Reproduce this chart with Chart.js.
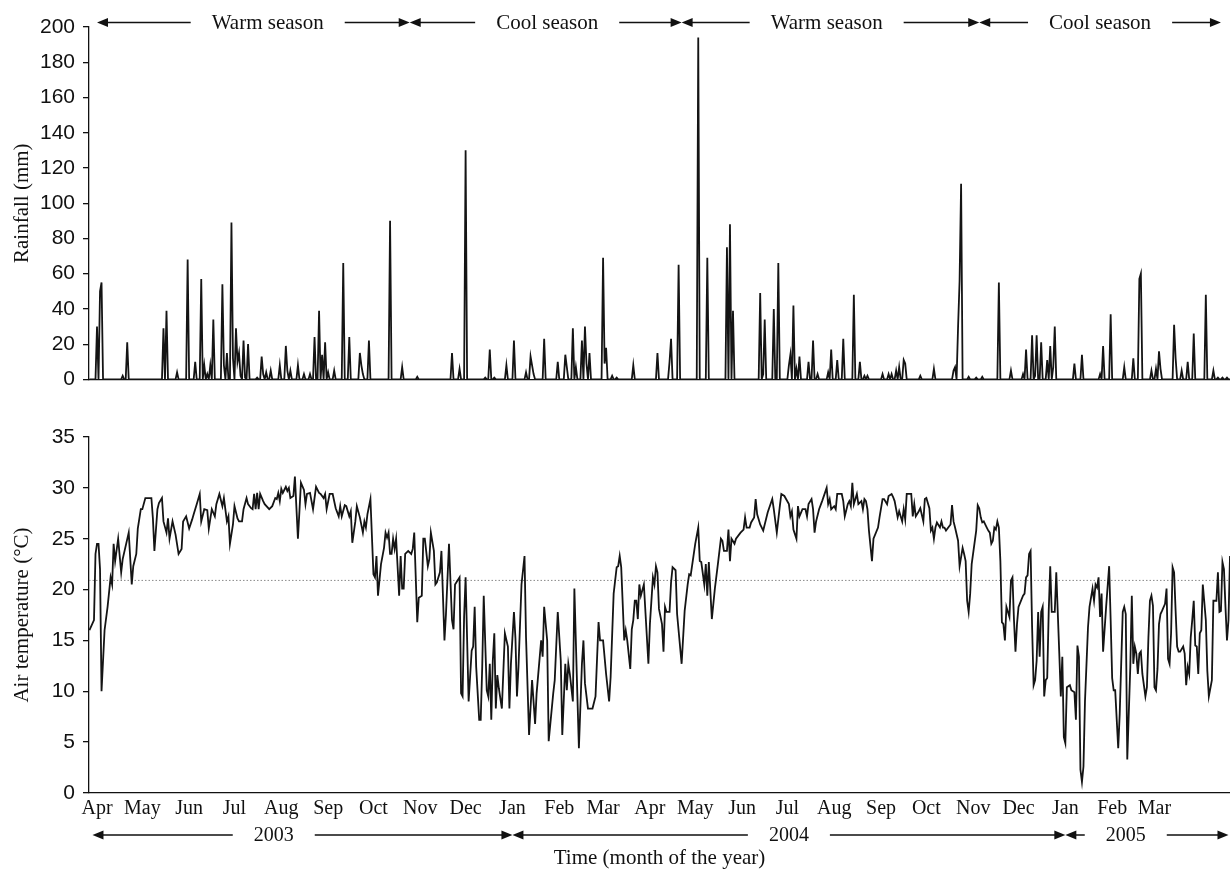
<!DOCTYPE html>
<html>
<head>
<meta charset="utf-8">
<script src="https://cdn.jsdelivr.net/npm/chart.js@4.4.1/dist/chart.umd.min.js"></script>
<style>
  html, body { margin: 0; padding: 0; background: #fff; }
  #wrap { position: relative; width: 1230px; height: 871px; overflow: hidden; }
  #rainCanvas { position: absolute; left: 0; top: 0; }
  #tempCanvas { position: absolute; left: 0; top: 400px; }
</style>
</head>
<body>
<div id="wrap">
  <canvas id="rainCanvas" width="1230" height="400"></canvas>
  <canvas id="tempCanvas" width="1230" height="471"></canvas>
</div>
<script>
// Days are counted from 1 April 2003 (day 0); the record runs from late March 2003 to mid April 2005.
const recordStart = -5.3;
const recordEnd = 750;

// Daily rainfall (mm) on rain days, as [day, mm]; days not listed had no rain.
const rain2003 = [
  [0,30],[2,50],[3,55],[17,2],[20,21],[44,29],[46,39],[53,4],[60,68],[65,10],[69,57],[71,8],[73,3],
  [75,8],[77,34],[83,54],[84,8],[86,15],[89,89],[90,12],[92,29],[93,10],[94,15],[95,2],[97,22],[98,1],
  [100,20],[106,1],[109,13],[110,3],[112,4],[115,5],[121,8],[125,19],[126,5],[128,5],[133,8],[137,3],
  [141,3],[144,24],[147,39],[149,14],[151,21],[153,4],[157,5],[163,66],[167,24],[174,15],[175,8],
  [176,3],[180,22],[194,90],[202,7],[212,1.5],[235,15],[240,6],[244,130],[257,1],[260,17],[263,1],[271,8]
];
const rain2004 = [
  [276,22],[284,4],[287,13],[288,8],[289,3],[296,23],[305,10],[310,14],[311,7],[315,29],[317,7],
  [321,22],[323,30],[324,9],[326,15],[335,69],[336,9],[337,18],[341,2],[344,1],[355,8],[371,15],
  [379,10],[380,23],[385,65],[398,194],[404,69],[417,75],[419,88],[421,39],[439,49],[441,3],[442,34],
  [448,40],[451,66],[458,8],[459,14],[461,42],[463,6],[465,13],[471,10],[474,22],[477,3],[484,4],
  [486,17],[490,11],[494,23],[501,48],[505,10],[508,2],[510,2],[520,3],[524,3],[526,3],[529,5],[531,7],
  [534,11],[535,9],[545,2],[554,6],[567,5],[568,7],[570,30],[571,56],[572,111],[577,1.5],[582,1],
  [586,1.5],[597,55],[605,5],[613,3],[615,17],[619,25],[621,2],[622,25],[625,21],[629,11],[631,19],
  [633,7],[634,30]
];
const rain2005 = [
  [647,9],[652,14],[664,3],[666,19],[671,37],[680,7],[686,12],[690,57],[691,60],[698,5],[701,6],
  [703,16],[704,6],[713,31],[714,12],[718,5],[722,10],[726,26],[734,48],[739,5],[742,1],[745,1],[748,1]
];

// Daily mean air temperature (°C), as [day, °C].
const airTemp2003 = [
  [-5,16.0],[-2,17.0],[-1,23.5],[0,24.5],[1,24.5],[2,22.0],[3,10.0],[5,16.0],[7,18.3],[9,21.2],[10,20.5],
  [11,24.5],[12,22.8],[14,25.0],[16,21.7],[17,23.0],[21,25.6],[23,20.5],[24,22.3],[26,23.5],[27,26.0],
  [29,27.9],[30,27.9],[32,29.0],[36,29.0],[37,27.0],[38,23.8],[40,27.9],[41,28.5],[43,29.0],[44,26.7],
  [46,25.6],[47,27.0],[48,25.0],[50,26.7],[52,25.4],[54,23.5],[56,24.0],[57,26.7],[59,27.2],[61,26.0],
  [63,26.9],[64,27.4],[66,28.4],[68,29.4],[69,26.7],[71,27.9],[73,27.8],[74,26.0],[76,27.9],[78,27.2],
  [79,28.4],[81,29.4],[83,28.2],[84,29.0],[86,26.7],[87,27.2],[88,24.5],[90,26.4],[91,28.2],[93,27.0],
  [94,26.7],[96,26.7],[97,27.9],[99,29.0],[100,28.4],[102,28.0],[103,27.9],[104,29.4],[105,27.9],
  [106,29.5],[107,27.9],[108,29.4],[110,28.7],[111,28.4],[114,27.9],[116,28.2],[118,29.0],[119,28.9],
  [120,29.5],[121,28.7],[122,29.9],[123,29.5],[125,30.1],[126,29.7],[127,30.0],[128,29.0],[130,29.2],
  [131,31.1],[133,25.0],[134,27.7],[135,30.5],[137,29.8],[138,28.4],[139,29.4],[141,29.5],[143,27.9],
  [145,30.1],[147,29.5],[148,29.4],[150,29.0],[151,29.4],[152,27.9],[154,29.4],[156,29.4],[158,28.0],
  [160,27.2],[161,28.2],[162,27.2],[164,28.3],[165,28.2],[167,27.2],[168,27.7],[169,24.6],[171,26.7],
  [172,28.2],[174,27.1],[176,25.6],[177,26.7],[178,26.1],[179,27.4],[181,28.9],[183,21.5],[184,21.2],
  [185,23.3],[186,19.4],[188,22.5],[190,24.1],[191,25.6],[192,25.1],[193,25.6],[194,23.5],[195,23.5],
  [196,25.0],[197,24.0],[198,25.0],[200,19.4],[201,23.3],[202,20.1],[203,20.1],[204,23.5],[206,23.8],
  [208,23.5],[209,24.0],[210,25.6],[212,16.8],[213,19.2],[215,19.4],[216,25.0],[217,25.0],[219,22.3],
  [220,23.0],[221,25.6],[223,23.8],[224,20.5],[225,20.7],[226,21.2],[227,21.7],[228,23.8],[230,15.0],
  [231,17.6],[233,24.5],[235,17.0],[236,16.1],[237,20.5],[240,21.2],[241,9.8],[242,9.5],[243,17.3],
  [244,21.2],[246,9.0],[248,14.0],[249,14.4],[250,18.3],[251,12.4],[253,7.2],[254,7.2],[255,12.4],
  [256,19.4],[258,10.1],[259,9.5],[260,12.7],[261,7.2],[262,13.0],[263,15.7],[264,8.3],[265,11.6],
  [266,10.3],[268,8.3],[270,15.7],[272,14.4],[273,8.3],[274,12.7]
];
const airTemp2004 = [
  [276,17.8],[277,15.2],[278,9.5],[279,12.4],[281,20.5],[283,23.3],[284,15.3],[286,5.7],[288,11.1],
  [290,6.8],[291,9.8],[294,15.0],[295,13.4],[296,18.3],[298,15.0],[299,5.1],[302,9.8],[303,11.1],
  [305,17.8],[307,13.0],[308,5.7],[310,12.7],[311,10.1],[312,12.7],[313,11.7],[315,9.0],[316,20.1],
  [318,9.5],[319,4.4],[321,12.7],[322,15.0],[323,10.8],[325,8.3],[328,8.3],[330,9.5],[332,16.8],
  [333,15.0],[335,15.0],[337,11.7],[339,9.0],[340,11.4],[342,19.6],[344,22.2],[345,22.3],[346,23.3],
  [347,22.2],[349,15.0],[350,16.0],[351,15.0],[353,12.2],[354,16.1],[355,17.0],[356,18.9],[357,18.9],
  [358,17.1],[359,20.5],[360,19.4],[362,20.5],[365,12.7],[366,16.6],[368,21.2],[369,20.5],[370,22.3],
  [371,21.7],[372,18.1],[374,16.6],[375,13.9],[376,18.3],[377,17.8],[379,17.8],[380,20.7],[381,22.2],
  [383,21.9],[384,17.6],[387,12.7],[389,17.9],[391,20.5],[392,21.5],[393,21.4],[396,24.5],[398,26.1],
  [399,22.8],[400,22.7],[402,20.5],[403,22.5],[404,19.4],[405,22.7],[407,17.1],[409,20.1],[411,22.5],
  [413,25.0],[414,24.8],[415,23.8],[417,23.8],[418,25.9],[419,22.8],[420,25.0],[422,24.5],[423,25.0],
  [426,25.6],[428,25.9],[429,27.1],[430,26.1],[432,26.1],[433,26.6],[435,27.1],[436,28.9],[437,27.4],
  [439,26.4],[441,25.8],[442,26.4],[444,27.6],[447,28.9],[448,27.9],[450,25.6],[452,28.2],[453,29.4],
  [455,29.2],[458,28.4],[459,27.2],[460,27.7],[461,25.9],[463,25.0],[464,28.2],[465,27.2],[467,27.9],
  [469,27.9],[470,27.2],[471,28.4],[473,28.9],[474,27.9],[475,25.6],[476,26.7],[478,27.9],[480,28.7],
  [483,30.0],[484,28.4],[485,28.9],[486,27.9],[488,28.2],[489,27.9],[490,29.4],[493,29.4],[494,28.7],
  [495,27.2],[497,28.4],[498,28.7],[499,28.2],[500,30.5],[501,28.4],[503,29.4],[504,28.4],[506,28.7],
  [507,27.9],[508,28.9],[509,28.7],[510,27.9],[511,25.8],[513,22.8],[514,25.0],[517,26.1],[518,27.1],
  [520,28.9],[521,28.9],[523,28.4],[524,29.2],[526,29.4],[527,29.1],[528,28.7],[530,27.1],[531,27.7],
  [533,26.7],[534,27.9],[535,26.9],[536,29.4],[538,29.4],[539,29.4],[540,27.2],[541,28.4],[542,27.2],
  [544,27.7],[545,28.0],[547,26.7],[548,28.9],[549,29.0],[551,28.0],[552,25.8],[553,26.1],[554,25.0],
  [555,26.1],[556,26.6],[558,26.1],[559,26.7],[560,26.1],[561,26.1],[562,25.8],[565,26.4],[566,28.3],
  [567,26.7],[568,26.1],[570,24.8],[571,22.3],[573,24.1],[574,23.5],[575,22.8],[576,18.9],[577,17.8],
  [578,19.6],[579,22.5],[582,25.8],[583,28.3],[584,28.0],[585,27.1],[586,26.6],[587,26.7],[589,26.1],
  [590,25.8],[591,25.6],[592,24.5],[593,24.8],[594,26.1],[595,25.9],[596,26.7],[597,26.1],[598,22.8],
  [599,16.8],[600,16.6],[601,15.0],[602,18.3],[604,17.3],[605,20.9],[606,21.2],[607,17.0],[608,13.9],
  [609,16.6],[610,18.3],[613,19.4],[614,19.6],[615,21.2],[616,21.4],[617,23.5],[618,23.8],[619,16.3],
  [620,10.6],[621,11.1],[622,13.0],[623,17.8],[624,13.4],[625,17.8],[626,18.3],[627,9.5],[628,11.1],
  [629,11.3],[630,17.9],[631,22.3],[632,17.8],[634,17.8],[635,21.7],[637,13.7],[638,9.5],[639,13.4],
  [640,5.5]
];
const airTemp2005 = [
  [641,4.9],[642,10.4],[644,10.6],[645,10.1],[647,9.9],[648,7.2],[649,14.5],[650,13.4],[651,2.3],
  [652,1.1],[653,2.6],[654,9.0],[656,16.3],[657,18.3],[659,20.1],[660,18.9],[661,20.5],[662,20.2],
  [663,21.2],[664,17.3],[665,19.6],[666,13.9],[668,18.3],[670,22.3],[671,17.0],[672,11.3],[673,10.1],
  [674,10.1],[676,4.4],[677,7.8],[679,17.8],[680,18.3],[681,17.6],[682,3.3],[684,12.4],[685,19.4],
  [686,12.7],[687,14.4],[688,13.7],[689,11.7],[690,13.7],[691,13.9],[692,11.7],[694,9.5],[695,10.4],
  [696,15.3],[697,18.9],[698,19.4],[699,18.4],[700,10.4],[701,10.1],[702,12.2],[703,16.6],[704,17.6],
  [705,17.9],[707,18.6],[708,20.1],[709,13.2],[710,12.7],[711,15.7],[712,22.2],[713,21.7],[714,17.9],
  [715,14.4],[716,13.9],[717,13.9],[719,14.4],[720,13.7],[721,10.6],[722,12.4],[723,11.7],[724,15.3],
  [725,17.0],[726,18.9],[727,14.5],[728,14.4],[729,11.7],[730,15.7],[731,16.0],[732,20.5],[734,17.0],
  [735,12.0],[736,9.5],[738,11.1],[739,18.9],[741,18.9],[742,21.7],[743,17.8],[744,17.9],[745,22.7],
  [746,22.0],[747,18.3],[748,15.0],[749,17.0],[750,23.3]
];

// Mean air temperature over the record (°C), shown as the dotted reference line.
const meanAirTemp = 20.9;

// Month axis: first day of each month and its label.
const monthStartDays = [0,30,61,91,122,153,183,214,244,275,306,335,366,396,427,457,488,519,549,580,610,641,672,700];
const monthLabels = ['Apr','May','Jun','Jul','Aug','Sep','Oct','Nov','Dec','Jan','Feb','Mar',
                     'Apr','May','Jun','Jul','Aug','Sep','Oct','Nov','Dec','Jan','Feb','Mar'];

// Calendar years along the time axis, with the day each caption is written at.
const yearBounds = [-3, 275, 641, 749];
const yearLabels = ['2003', '2004', '2005'];
const yearLabelDays = [117, 458, 681];

// Warm / cool seasons marked above the rainfall panel, with caption days.
const seasonBounds = [0, 207, 387, 584, 744];
const seasonLabels = ['Warm season', 'Cool season', 'Warm season', 'Cool season'];
const seasonLabelDays = [113, 298, 483, 664];

// ---------------------------------------------------------------------------

const SANS = '"Liberation Sans", Arial, sans-serif';
const SERIF = '"Liberation Serif", "Times New Roman", serif';
const INK = '#141414';

function toPoints(pairs) {
  return pairs.map(p => ({ x: p[0], y: p[1] }));
}

// Rain days expanded onto the full daily record (dry days are 0 mm).
function dailyRain() {
  const byDay = new Map();
  [rain2003, rain2004, rain2005].forEach(list => list.forEach(([d, mm]) => byDay.set(d, mm)));
  const pts = [];
  for (let d = Math.ceil(recordStart); d <= recordEnd; d++) {
    pts.push({ x: d, y: byDay.has(d) ? byDay.get(d) : 0 });
  }
  return pts;
}

// Double-headed arrow rows with a caption inside each span.
function drawSpanRow(chart, bounds, labels, labelDays, y, font) {
  const { ctx } = chart;
  const xs = chart.scales.x;
  const gap = 21, headLen = 11, headHalf = 4.5;
  ctx.save();
  ctx.font = font;
  ctx.fillStyle = '#111';
  ctx.strokeStyle = '#111';
  ctx.lineWidth = 1.7;
  ctx.textAlign = 'center';
  ctx.textBaseline = 'middle';
  for (let i = 0; i < labels.length; i++) {
    const x0 = xs.getPixelForValue(bounds[i]);
    const x1 = xs.getPixelForValue(bounds[i + 1]);
    const cx = xs.getPixelForValue(labelDays[i]);
    const w = ctx.measureText(labels[i]).width;
    ctx.fillText(labels[i], cx, y + 1);
    ctx.beginPath();
    ctx.moveTo(x0 + headLen - 1, y);
    ctx.lineTo(cx - w / 2 - gap, y);
    ctx.moveTo(cx + w / 2 + gap, y);
    ctx.lineTo(x1 - headLen + 1, y);
    ctx.stroke();
    ctx.beginPath();
    ctx.moveTo(x0, y);
    ctx.lineTo(x0 + headLen, y - headHalf);
    ctx.lineTo(x0 + headLen, y + headHalf);
    ctx.closePath();
    ctx.moveTo(x1, y);
    ctx.lineTo(x1 - headLen, y - headHalf);
    ctx.lineTo(x1 - headLen, y + headHalf);
    ctx.closePath();
    ctx.fill();
  }
  ctx.restore();
}

const seasonRow = {
  id: 'seasonRow',
  afterDraw(chart) {
    drawSpanRow(chart, seasonBounds, seasonLabels, seasonLabelDays, 22.5, '21px ' + SERIF);
  }
};
const yearRow = {
  id: 'yearRow',
  afterDraw(chart) {
    drawSpanRow(chart, yearBounds, yearLabels, yearLabelDays, 435, '20px ' + SERIF);
  }
};

function yAxis(min, max, step, title, width) {
  return {
    type: 'linear',
    min, max,
    afterFit: s => { s.width = width; },
    ticks: {
      stepSize: step,
      color: '#111',
      padding: 8,
      font: { family: SANS, size: 21 }
    },
    grid: { drawOnChartArea: false, drawTicks: true, tickLength: 6, color: '#111', lineWidth: 1.3 },
    border: { display: true, color: '#111', width: 1.3 },
    title: {
      display: true,
      text: title,
      color: '#111',
      font: { family: SERIF, size: 21 },
      padding: { top: 10, bottom: 0 }
    }
  };
}

const baseOptions = {
  responsive: false,
  animation: false,
  events: [],
  plugins: { legend: { display: false }, tooltip: { enabled: false } }
};

// Rainfall panel
new Chart(document.getElementById('rainCanvas'), {
  type: 'line',
  data: {
    datasets: [{
      data: dailyRain(),
      borderColor: INK,
      borderWidth: 1.8,
      pointRadius: 0,
      tension: 0
    }]
  },
  options: {
    ...baseOptions,
    layout: { padding: { top: 27, right: 0, bottom: 0, left: 0 } },
    scales: {
      x: {
        type: 'linear',
        min: recordStart, max: recordEnd,
        afterFit: s => { s.height = 11; },
        ticks: { display: false },
        grid: { display: false, drawTicks: false },
        border: { display: true, color: '#111', width: 1.3 }
      },
      y: yAxis(0, 200, 20, 'Rainfall (mm)', 89)
    }
  },
  plugins: [seasonRow]
});

// Air temperature panel
new Chart(document.getElementById('tempCanvas'), {
  type: 'line',
  data: {
    datasets: [
      {
        data: toPoints([...airTemp2003, ...airTemp2004, ...airTemp2005]),
        borderColor: INK,
        borderWidth: 1.8,
        pointRadius: 0,
        tension: 0
      },
      {
        data: [{ x: recordStart, y: meanAirTemp }, { x: recordEnd, y: meanAirTemp }],
        borderColor: '#8a8a8a',
        borderWidth: 1,
        borderDash: [1.5, 2],
        pointRadius: 0
      }
    ]
  },
  options: {
    ...baseOptions,
    layout: { padding: { top: 37, right: 0, bottom: 0, left: 0 } },
    scales: {
      x: {
        type: 'linear',
        min: recordStart, max: recordEnd,
        afterFit: s => { s.height = 78; },
        afterBuildTicks: s => { s.ticks = monthStartDays.map(v => ({ value: v })); },
        ticks: {
          autoSkip: false,
          maxRotation: 0,
          minRotation: 0,
          padding: 4,
          color: '#111',
          font: { family: SERIF, size: 20 },
          callback: (v, i) => monthLabels[i]
        },
        grid: { display: false, drawTicks: false },
        border: { display: true, color: '#111', width: 1.3 },
        title: {
          display: true,
          text: 'Time (month of the year)',
          color: '#111',
          font: { family: SERIF, size: 21 },
          padding: { top: 0, bottom: 0 }
        }
      },
      y: yAxis(0, 35, 5, 'Air temperature (°C)', 89)
    }
  },
  plugins: [yearRow]
});
</script>
</body>
</html>
